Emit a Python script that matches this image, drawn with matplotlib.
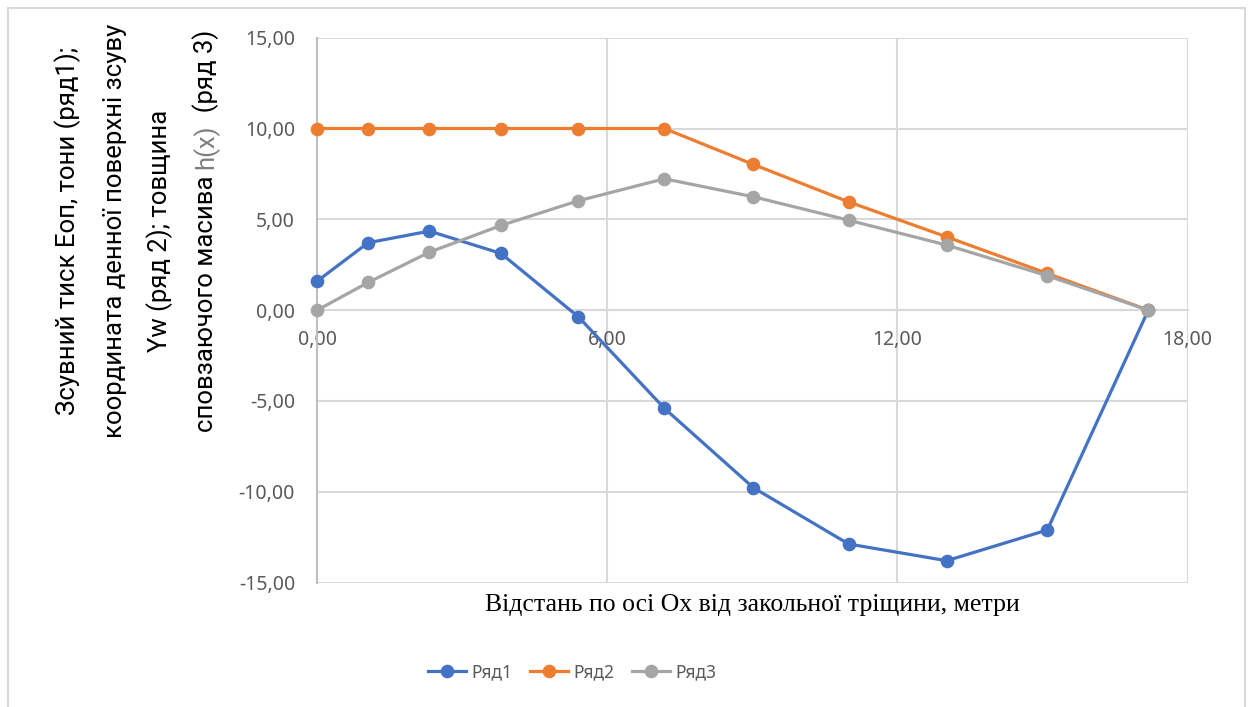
import matplotlib
matplotlib.use("Agg")
import matplotlib.pyplot as plt
from matplotlib.lines import Line2D

plt.rcParams['font.family'] = ['Noto Sans', 'DejaVu Sans']

x_vals = [0.0, 1.05, 2.32, 3.80, 5.40, 7.18, 9.02, 10.99, 13.02, 15.10, 17.19]
ryad1 = [1.60, 3.71, 4.35, 3.12, -0.37, -5.41, -9.78, -12.88, -13.80, -12.11, 0.0]
ryad2 = [10.0, 10.0, 10.0, 10.0, 10.0, 10.0, 8.02, 5.96, 4.03, 2.02, 0.0]
ryad3 = [0.0, 1.52, 3.19, 4.66, 6.02, 7.23, 6.24, 4.95, 3.58, 1.89, 0.0]
series_names = ["Ряд1", "Ряд2", "Ряд3"]
colors = ["#4472C4", "#ED7D31", "#A5A5A5"]
x_ticks = [0, 6, 12, 18]
x_tick_labels = ["0,00", "6,00", "12,00", "18,00"]
y_ticks = [-15, -10, -5, 0, 5, 10, 15]
y_tick_labels = ["-15,00", "-10,00", "-5,00", "0,00", "5,00", "10,00", "15,00"]
ylabel_lines = ["Зсувний тиск Еоп, тони (ряд1);",
                "координата денної поверхні зсуву",
                "Yw (ряд 2); товщина"]
ylabel_last = ["сповзаючого масива ", "h(x)", "  (ряд 3)"]
xlabel = "Відстань по осі Ох від закольної тріщини, метри"

W, H = 1251, 707
fig = plt.figure(figsize=(W / 100, H / 100), dpi=100)

# outer chart border (no bottom edge visible)
border_col = "#D9D9D9"
for (xs, ys) in [([8, 8], [H, 8]), ([8, 1245], [8, 8]), ([1245, 1245], [8, H])]:
    fig.add_artist(Line2D([v / W for v in xs], [1 - v / H for v in ys],
                          color=border_col, lw=1.5, transform=fig.transFigure))

left, right = 317.3 / W, 1187.5 / W
top, bottom = 1 - 37.7 / H, 1 - 582.5 / H
ax = fig.add_axes([left, bottom, right - left, top - bottom])

for yv, c, nm in zip([ryad1, ryad2, ryad3], colors, series_names):
    ax.plot(x_vals, yv, color=c, lw=2.3, marker='o', markersize=8.8,
            label=nm, clip_on=False, zorder=3)

ax.set_xlim(0, 18)
ax.set_ylim(-15, 15)
ax.set_xticks(x_ticks)
ax.set_xticklabels(x_tick_labels)
ax.set_yticks(y_ticks)
ax.set_yticklabels(y_tick_labels)
ax.grid(True, color="#D9D9D9", lw=1.5)
ax.set_axisbelow(True)

for s in ['top', 'right']:
    ax.spines[s].set_visible(False)
ax.spines['bottom'].set_position(('data', 0))
ax.spines['bottom'].set_color("#D9D9D9")
ax.spines['bottom'].set_linewidth(1.5)
ax.spines['left'].set_color("#BFBFBF")
ax.spines['left'].set_linewidth(1.5)

ax.tick_params(axis='both', length=0, labelsize=14, labelcolor="#595959")
ax.tick_params(axis='x', pad=14)
ax.tick_params(axis='y', pad=16)

# x axis title (serif)
fig.text(752 / W, 1 - 605 / H, xlabel, ha='center', va='center', fontsize=18.5,
         family=['Liberation Serif', 'DejaVu Serif'], color='black')

# y axis title, line by line
lab_family = ['Roboto', 'DejaVu Sans']
lab_size = 18.5
yc = 1 - 231 / H
line_x = [68, 115, 160, 206]
for txt, lx in zip(ylabel_lines, line_x[:3]):
    fig.text(lx / W, yc, txt, rotation=90, ha='center', va='center',
             fontsize=lab_size, family=lab_family, color='black')

# last line with grey h(x)
fig.canvas.draw()
renderer = fig.canvas.get_renderer()
piece_cols = ['black', '#7F7F7F', 'black']
pieces = []
for txt, col in zip(ylabel_last, piece_cols):
    t = fig.text(line_x[3] / W, 0, txt, rotation=90, rotation_mode='anchor',
                 ha='left', va='center', fontsize=lab_size, family=lab_family,
                 color=col)
    pieces.append(t)
heights = [p.get_window_extent(renderer).height for p in pieces]
total = sum(heights)
start = yc * H - total / 2
for p, h in zip(pieces, heights):
    p.set_position((line_x[3] / W, start / H))
    start += h

# legend
fig.legend(loc='center', bbox_to_anchor=(572 / W, 1 - 672 / H), ncol=3,
           frameon=False, fontsize=12.5, handlelength=2.2,
           handletextpad=0.3, columnspacing=1.0, labelcolor="#595959")

fig.savefig("out.png", dpi=100)
